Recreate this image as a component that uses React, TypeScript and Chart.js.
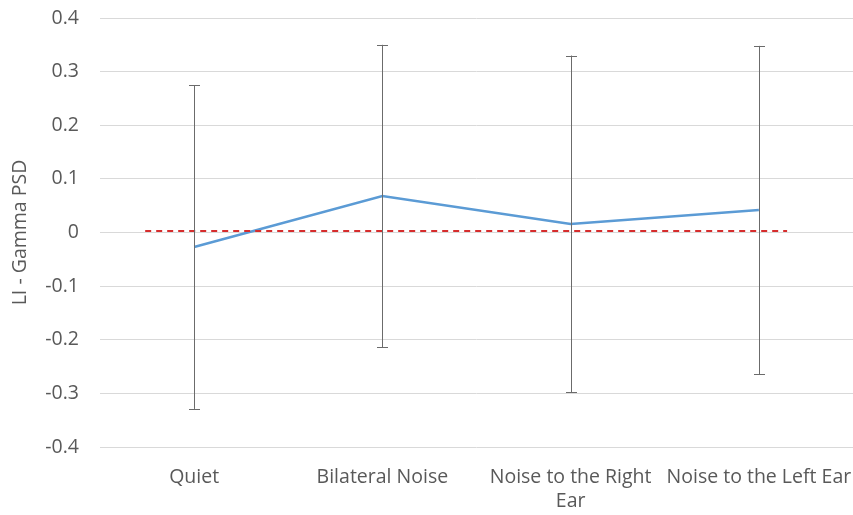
import React, { useEffect, useRef } from "react";
import { Chart, registerables } from "chart.js";

Chart.register(...registerables);

const categories: (string | string[])[] = [
  "Quiet",
  "Bilateral Noise",
  ["Noise to the Right", "Ear"],
  "Noise to the Left Ear",
];
const meanValues = [-0.027, 0.068, 0.016, 0.042];
const errorValues = [0.302, 0.282, 0.314, 0.306];
const referenceLine = [
  { x: -0.26, y: 0.003 },
  { x: 3.15, y: 0.003 },
];
const yTickMin = -0.4;
const yTickMax = 0.4;
const yTickStep = 0.1;

const FONT = "'Open Sans', 'Noto Sans', sans-serif";
const TEXT = "#595959";
const FS = 19.5;

const errorBarPlugin = {
  id: "errorBars",
  afterDatasetsDraw(chart: any) {
    const meta = chart.getDatasetMeta(0);
    const yScale = chart.scales.y;
    const ctx = chart.ctx;
    ctx.save();
    ctx.strokeStyle = "#6b6b6b";
    ctx.lineWidth = 1;
    meta.data.forEach((pt: any, i: number) => {
      const x = Math.round(pt.x) + 0.5;
      const top = yScale.getPixelForValue(meanValues[i] + errorValues[i]);
      const bot = yScale.getPixelForValue(meanValues[i] - errorValues[i]);
      ctx.beginPath();
      ctx.moveTo(x, top);
      ctx.lineTo(x, bot);
      ctx.moveTo(x - 5.5, Math.round(top) + 0.5);
      ctx.lineTo(x + 5.5, Math.round(top) + 0.5);
      ctx.moveTo(x - 5.5, Math.round(bot) + 0.5);
      ctx.lineTo(x + 5.5, Math.round(bot) + 0.5);
      ctx.stroke();
    });
    ctx.restore();
  },
};

export default function App() {
  const ref = useRef<HTMLCanvasElement | null>(null);
  useEffect(() => {
    document.body.style.margin = "0";
    if (!ref.current) return;
    const chart = new Chart(ref.current, {
      type: "line",
      data: {
        labels: categories as any,
        datasets: [
          {
            data: meanValues,
            borderColor: "#5b9bd5",
            borderWidth: 2.5,
            pointRadius: 0,
            tension: 0,
            fill: false,
            order: 2,
          },
          {
            data: referenceLine as any,
            xAxisID: "x2",
            borderColor: "#d62d2d",
            borderWidth: 2,
            borderDash: [6, 5],
            pointRadius: 0,
            fill: false,
            order: 1,
          },
        ],
      },
      options: {
        animation: false,
        responsive: false,
        layout: { padding: { top: 18, right: 0, left: 0, bottom: 0 } },
        plugins: { legend: { display: false }, tooltip: { enabled: false } },
        scales: {
          x: {
            type: "category",
            offset: true,
            grid: { display: false, drawTicks: true, tickLength: 19 },
            border: { display: false },
            ticks: {
              color: TEXT,
              font: { family: FONT, size: FS },
              padding: 0,
              maxRotation: 0,
              autoSkip: false,
            },
            afterFit: (s: any) => {
              s.height = 68;
            },
          },
          x2: {
            type: "linear",
            display: false,
            min: -0.5,
            max: 3.5,
          },
          y: {
            min: yTickMin,
            max: yTickMax,
            grid: {
              color: "#d9d9d9",
              drawTicks: true,
              tickLength: 21,
              tickColor: "rgba(0,0,0,0)",
              lineWidth: 1,
            },
            border: { display: false },
            ticks: {
              stepSize: yTickStep,
              color: TEXT,
              font: { family: FONT, size: FS },
              padding: 0,
              callback: (v: any) => {
                const n = Math.round(Number(v) * 10) / 10;
                return n === 0 ? "0" : String(n);
              },
            },
            title: {
              display: true,
              text: "LI - Gamma PSD",
              color: TEXT,
              font: { family: FONT, size: FS },
              padding: { top: 9, bottom: 0 },
            },
            afterFit: (s: any) => {
              s.width = 100;
            },
          },
        },
      },
      plugins: [errorBarPlugin],
    });
    return () => chart.destroy();
  }, []);
  return (
    <div style={{ width: 853, height: 515 }}>
      <canvas ref={ref} width={853} height={515} style={{ display: "block" }} />
    </div>
  );
}
